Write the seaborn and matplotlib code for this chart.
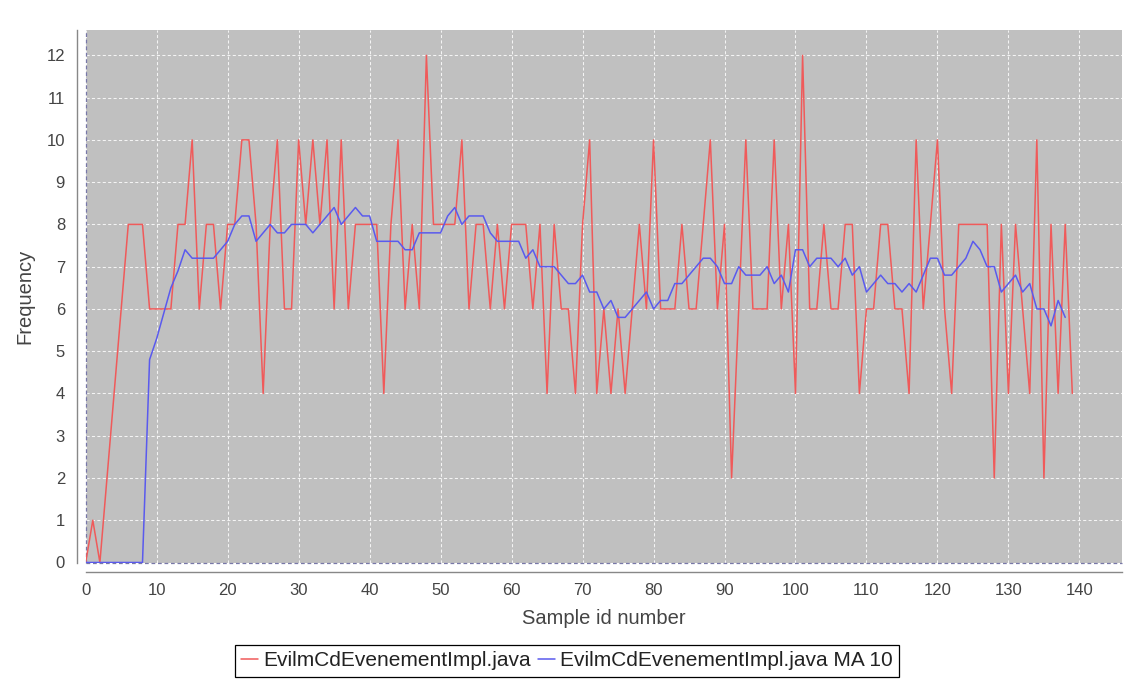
import matplotlib
matplotlib.use("Agg")
import matplotlib.pyplot as plt
import seaborn as sns

# Frequency per sample id
sample_ids = list(range(140))
frequency = [
    0, 1, 0, 2, 4, 6, 8, 8, 8, 6,
    6, 6, 6, 8, 8, 10, 6, 8, 8, 6,
    8, 8, 10, 10, 8, 4, 8, 10, 6, 6,
    10, 8, 10, 8, 10, 6, 10, 6, 8, 8,
    8, 8, 4, 8, 10, 6, 8, 6, 12, 8,
    8, 8, 8, 10, 6, 8, 8, 6, 8, 6,
    8, 8, 8, 6, 8, 4, 8, 6, 6, 4,
    8, 10, 4, 6, 4, 6, 4, 6, 8, 6,
    10, 6, 6, 6, 8, 6, 6, 8, 10, 6,
    8, 2, 6, 10, 6, 6, 6, 10, 6, 8,
    4, 12, 6, 6, 8, 6, 6, 8, 8, 4,
    6, 6, 8, 8, 6, 6, 4, 10, 6, 8,
    10, 6, 4, 8, 8, 8, 8, 8, 2, 8,
    4, 8, 6, 4, 10, 2, 8, 4, 8, 4,
]

# 10-sample moving average
ma_ids = list(range(139))
moving_avg = [
    0, 0, 0, 0, 0, 0, 0, 0, 0, 4.8,
    5.3, 5.9, 6.5, 6.9, 7.4, 7.2, 7.2, 7.2, 7.2, 7.4,
    7.6, 8.0, 8.2, 8.2, 7.6, 7.8, 8.0, 7.8, 7.8, 8.0,
    8.0, 8.0, 7.8, 8.0, 8.2, 8.4, 8.0, 8.2, 8.4, 8.2,
    8.2, 7.6, 7.6, 7.6, 7.6, 7.4, 7.4, 7.8, 7.8, 7.8,
    7.8, 8.2, 8.4, 8.0, 8.2, 8.2, 8.2, 7.8, 7.6, 7.6,
    7.6, 7.6, 7.2, 7.4, 7.0, 7.0, 7.0, 6.8, 6.6, 6.6,
    6.8, 6.4, 6.4, 6.0, 6.2, 5.8, 5.8, 6.0, 6.2, 6.4,
    6.0, 6.2, 6.2, 6.6, 6.6, 6.8, 7.0, 7.2, 7.2, 7.0,
    6.6, 6.6, 7.0, 6.8, 6.8, 6.8, 7.0, 6.6, 6.8, 6.4,
    7.4, 7.4, 7.0, 7.2, 7.2, 7.2, 7.0, 7.2, 6.8, 7.0,
    6.4, 6.6, 6.8, 6.6, 6.6, 6.4, 6.6, 6.4, 6.8, 7.2,
    7.2, 6.8, 6.8, 7.0, 7.2, 7.6, 7.4, 7.0, 7.0, 6.4,
    6.6, 6.8, 6.4, 6.6, 6.0, 6.0, 5.6, 6.2, 5.8,
]

series_name = "EvilmCdEvenementImpl.java"
ma_name = "EvilmCdEvenementImpl.java MA 10"
x_ticks = list(range(0, 141, 10))
y_ticks = list(range(0, 13))

sns.set_style("white")
plt.rcParams["font.family"] = ["Liberation Sans", "DejaVu Sans"]

W, H = 1126, 679
fig = plt.figure(figsize=(W / 100, H / 100), dpi=100)
left, right, top, bottom = 85.7, 1122, 30, 562.5
ax = fig.add_axes([left / W, 1 - bottom / H, (right - left) / W, (bottom - top) / H])
ax.set_facecolor("#C0C0C0")

red = "#F05A5A"
blue = "#5A5AEE"

sns.lineplot(x=sample_ids, y=frequency, color=red, linewidth=1.1,
             estimator=None, ax=ax, label=series_name, legend=False, zorder=3)
sns.lineplot(x=ma_ids, y=moving_avg, color=blue, linewidth=1.1,
             estimator=None, ax=ax, label=ma_name, legend=False, zorder=4)

ax.set_xlim(0, 146)
ax.set_ylim(0, 12.6)
ax.set_xticks(x_ticks)
ax.set_yticks(y_ticks)

ax.set_axisbelow(True)
ax.grid(True, color="#F4F4F4", linestyle=(0, (3, 2.2)), linewidth=0.75)
ax.axvline(0, color="#7878A8", linestyle=(0, (3, 2.2)), linewidth=0.9, clip_on=False, zorder=2)
ax.axhline(0, color="#7878A8", linestyle=(0, (3, 2.2)), linewidth=0.9, clip_on=False, zorder=2)

for side in ("top", "right"):
    ax.spines[side].set_visible(False)
ax.spines["left"].set_position(("outward", 6))
ax.spines["bottom"].set_position(("outward", 6.6))
for side in ("left", "bottom"):
    ax.spines[side].set_color("#888888")
    ax.spines[side].set_linewidth(1.0)

ax.tick_params(axis="both", direction="out", length=3.4, width=0.8, color="#888888",
               labelsize=12, labelcolor="#444444")
ax.tick_params(axis="y", pad=5.5)
ax.tick_params(axis="x", pad=5.0)

ax.set_xlabel("Sample id number", fontsize=14.5, color="#444444")
ax.set_ylabel("Frequency", fontsize=14.5, color="#444444")
ax.xaxis.label.set_verticalalignment("center")
ax.yaxis.label.set_verticalalignment("center")
ax.xaxis.set_label_coords(0.5, (bottom - 618) / (bottom - top))
ax.yaxis.set_label_coords((25 - left) / (right - left), 0.5)

handles, labels = ax.get_legend_handles_labels()
leg = fig.legend(handles, labels, loc="center", bbox_to_anchor=(567 / W, 1 - 661 / H),
                 ncol=2, frameon=True, fancybox=False, edgecolor="black", framealpha=1,
                 fontsize=15, borderpad=0.3, handlelength=0.8, handletextpad=0.25,
                 columnspacing=0.35, borderaxespad=0)
leg.get_frame().set_linewidth(0.9)
for t in leg.get_texts():
    t.set_color("#222222")

fig.savefig("out.png", dpi=100, facecolor="white")
